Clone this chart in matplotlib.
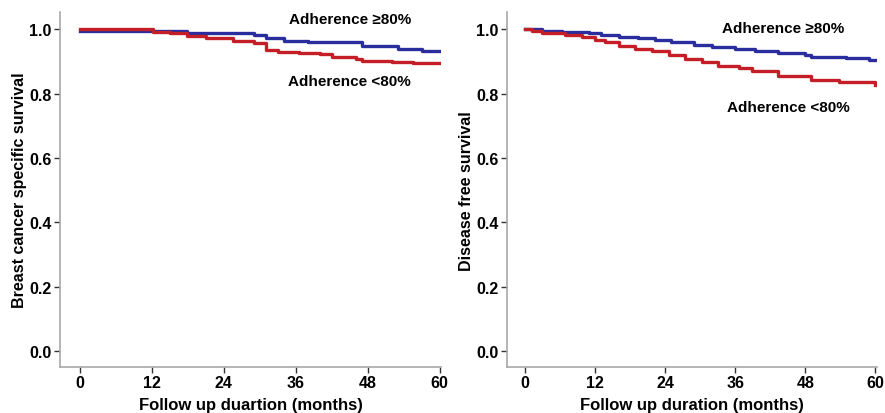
import matplotlib.pyplot as plt

plt.rcParams['font.family'] = ['Liberation Sans', 'DejaVu Sans']
plt.rcParams['font.weight'] = 'bold'

# Breast cancer specific survival
bcss_hi_t = [0, 17.8, 29, 31, 34, 38, 47, 53, 57, 60]
bcss_hi_s = [0.996, 0.988, 0.981, 0.974, 0.964, 0.959, 0.948, 0.940, 0.933, 0.933]
bcss_lo_t = [0, 12.2, 15, 17.8, 21, 25.5, 29, 31.1, 33, 36.5, 40, 42, 46, 47, 52, 55.5, 60]
bcss_lo_s = [1.0, 0.993, 0.990, 0.979, 0.972, 0.964, 0.956, 0.936, 0.930, 0.927, 0.922,
             0.915, 0.907, 0.902, 0.899, 0.895, 0.895]

# Disease free survival
dfs_hi_t = [0, 2.9, 6.3, 10.9, 13, 16, 19.4, 22.3, 25, 29, 32, 36, 39.4, 43.4, 48, 49, 54.9, 59, 60]
dfs_hi_s = [1.0, 0.996, 0.992, 0.988, 0.982, 0.977, 0.972, 0.967, 0.960, 0.952, 0.944,
            0.938, 0.931, 0.926, 0.921, 0.913, 0.910, 0.905, 0.905]
dfs_lo_t = [0, 1.2, 2.9, 6.9, 9.7, 12, 13.7, 16, 18.9, 21.7, 24.6, 27.4, 30.3, 33, 36.6,
            38.9, 43.4, 49, 53.7, 60]
dfs_lo_s = [1.0, 0.995, 0.988, 0.981, 0.975, 0.967, 0.959, 0.948, 0.940, 0.931, 0.919,
            0.907, 0.897, 0.887, 0.879, 0.869, 0.856, 0.843, 0.835, 0.828]

xticks = [0, 12, 24, 36, 48, 60]
yticks = [0.0, 0.2, 0.4, 0.6, 0.8, 1.0]

BLUE = '#2a2d9e'
RED = '#c41f26'


def style_axes(ax, xlim, xlabel, ylabel):
  ax.set_xlim(*xlim)
  ax.set_ylim(-0.05, 1.053)
  ax.set_xticks(xticks)
  ax.set_yticks(yticks)
  ax.set_yticklabels([f'{v:.1f}' for v in yticks])
  for side in ['top', 'right']:
    ax.spines[side].set_visible(False)
  for side in ['left', 'bottom']:
    ax.spines[side].set_color('#a8a8a8')
    ax.spines[side].set_linewidth(1.2)
  ax.tick_params(axis='both', length=4, width=1, color='#333333', labelsize=11.5, pad=2)
  ax.set_xlabel(xlabel, fontsize=12, fontweight='bold', labelpad=5)
  ax.set_ylabel(ylabel, fontsize=11.5, fontweight='bold', labelpad=2)


def main() -> None:
  fig = plt.figure(figsize=(8.85, 4.14), dpi=100)
  ax1 = fig.add_axes([0.068, 0.111, 0.43, 0.857])
  ax2 = fig.add_axes([0.573, 0.111, 0.418, 0.857])

  #* Left panel
  ax1.step(bcss_hi_t, bcss_hi_s, where='post', color=BLUE, lw=2.4)
  ax1.step(bcss_lo_t, bcss_lo_s, where='post', color=RED, lw=2.4)
  ax1.text(45, 1.031, 'Adherence ≥80%', ha='center', va='center', fontsize=11, fontweight='bold')
  ax1.text(45, 0.838, 'Adherence <80%', ha='center', va='center', fontsize=11, fontweight='bold')
  style_axes(ax1, (-3.3, 60.2), 'Follow up duartion (months)', 'Breast cancer specific survival')

  #* Right panel
  ax2.step(dfs_hi_t, dfs_hi_s, where='post', color=BLUE, lw=2.4)
  ax2.step(dfs_lo_t, dfs_lo_s, where='post', color=RED, lw=2.4)
  ax2.text(44.2, 1.003, 'Adherence ≥80%', ha='center', va='center', fontsize=11, fontweight='bold')
  ax2.text(45.1, 0.758, 'Adherence <80%', ha='center', va='center', fontsize=11, fontweight='bold')
  style_axes(ax2, (-3.1, 60.3), 'Follow up duration (months)', 'Disease free survival')

  fig.savefig('out.png', dpi=100)


if __name__ == "__main__":
  main()
